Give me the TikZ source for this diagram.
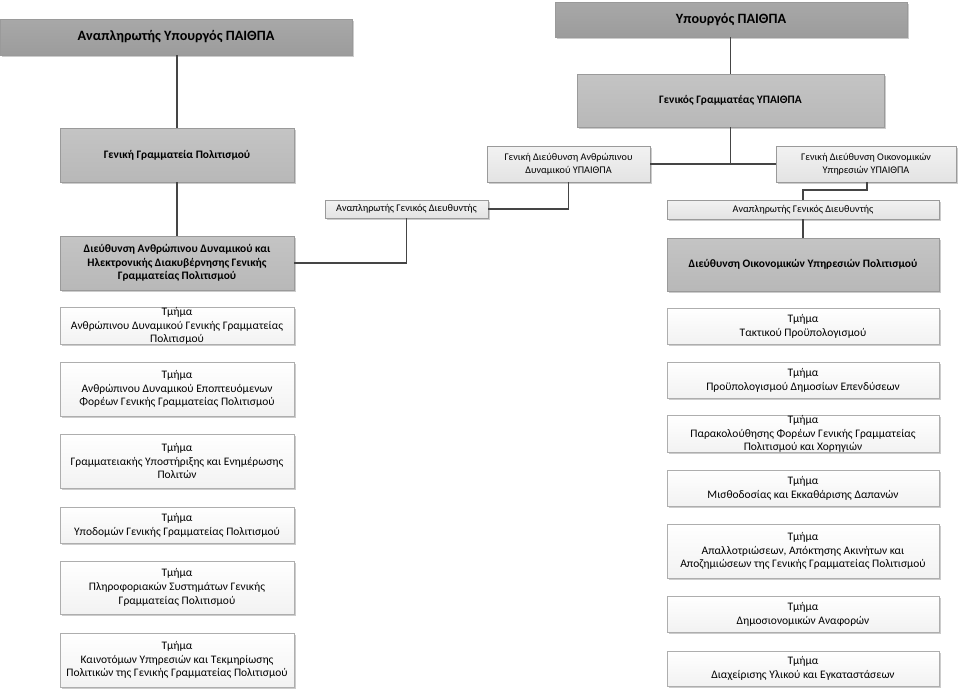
\documentclass[tikz,border=0pt]{standalone}
\usepackage{fontspec}
\setmainfont{Carlito}
\usetikzlibrary{shadows}
\definecolor{dkbox}{HTML}{A8A8A8}
\definecolor{dkboxb}{HTML}{9C9C9C}
\definecolor{mdbox}{HTML}{C4C4C4}
\definecolor{mdboxb}{HTML}{B8B8B8}
\definecolor{ltbox}{HTML}{F2F2F2}
\definecolor{ltboxb}{HTML}{E3E3E3}
\definecolor{edge}{HTML}{9A9A9A}
\definecolor{lineclr}{HTML}{454545}
\tikzset{
  base/.style={draw=edge, line width=0.6pt, inner sep=0pt, outer sep=0pt, align=center,
    drop shadow={shadow xshift=1.6pt, shadow yshift=-1.6pt, fill=black, opacity=0.2}},
  topbox/.style={base, top color=dkbox, bottom color=dkboxb, font=\fontsize{14.2}{17}\selectfont\bfseries},
  secbox/.style={base, top color=mdbox, bottom color=mdboxb, font=\fontsize{11.4}{13.4}\selectfont\bfseries},
  gdbox/.style={base, top color=ltbox, bottom color=ltboxb, font=\fontsize{10.2}{13}\selectfont},
  tmbox/.style={base, draw=edge!80, top color=white, bottom color=ltbox, font=\fontsize{11.5}{13.8}\selectfont},
  conn/.style={draw=lineclr, line width=1.1pt}
}
\begin{document}
\begin{tikzpicture}[x=1pt,y=-1pt]
\useasboundingbox (0,0) rectangle (960,691);
% top level
\node[topbox, minimum width=352, minimum height=36] (minA) at (176,37) {Αναπληρωτής Υπουργός ΠΑΙΘΠΑ};
\node[topbox, minimum width=352, minimum height=35] (min) at (731,19.5) {Υπουργός ΠΑΙΘΠΑ};
\node[secbox, minimum width=307, minimum height=53] (gs) at (730.5,100.5) {Γενικός Γραμματέας ΥΠΑΙΘΠΑ};
\node[secbox, minimum width=234, minimum height=54] (ggp) at (177,155) {Γενική Γραμματεία Πολιτισμού};
\node[gdbox, minimum width=163, minimum height=36] (gdad) at (568.5,164) {Γενική Διεύθυνση Ανθρώπινου\\Δυναμικού ΥΠΑΙΘΠΑ};
\node[gdbox, minimum width=180, minimum height=36] (gdoy) at (866,164) {Γενική Διεύθυνση Οικονομικών\\Υπηρεσιών ΥΠΑΙΘΠΑ};
\node[gdbox, minimum width=163, minimum height=18] (agdL) at (406.5,209) {Αναπληρωτής Γενικός Διευθυντής};
\node[gdbox, minimum width=272, minimum height=19] (agdR) at (803,209.5) {Αναπληρωτής Γενικός Διευθυντής};
\node[secbox, minimum width=234, minimum height=54] (dad) at (177,263) {Διεύθυνση Ανθρώπινου Δυναμικού και\\Ηλεκτρονικής Διακυβέρνησης Γενικής\\Γραμματείας Πολιτισμού};
\node[secbox, minimum width=272, minimum height=53] (doy) at (803,264.5) {Διεύθυνση Οικονομικών Υπηρεσιών Πολιτισμού};
% left departments
\node[tmbox, minimum width=234, minimum height=36] (L1) at (177,326) {Τμήμα\\Ανθρώπινου Δυναμικού Γενικής Γραμματείας\\Πολιτισμού};
\node[tmbox, minimum width=234, minimum height=54] (L2) at (177,389) {Τμήμα\\Ανθρώπινου Δυναμικού Εποπτευόμενων\\Φορέων Γενικής Γραμματείας Πολιτισμού};
\node[tmbox, minimum width=234, minimum height=54] (L3) at (177,461) {Τμήμα\\Γραμματειακής Υποστήριξης και Ενημέρωσης\\Πολιτών};
\node[tmbox, minimum width=234, minimum height=36] (L4) at (177,525) {Τμήμα\\Υποδομών Γενικής Γραμματείας Πολιτισμού};
\node[tmbox, minimum width=234, minimum height=53] (L5) at (177,587.5) {Τμήμα\\Πληροφοριακών Συστημάτων Γενικής\\Γραμματείας Πολιτισμού};
\node[tmbox, minimum width=234, minimum height=54] (L6) at (177,660) {Τμήμα\\Καινοτόμων Υπηρεσιών και Τεκμηρίωσης\\Πολιτικών της Γενικής Γραμματείας Πολιτισμού};
% right departments
\node[tmbox, minimum width=272, minimum height=36] (R1) at (803,326) {Τμήμα\\Τακτικού Προϋπολογισμού};
\node[tmbox, minimum width=272, minimum height=36] (R2) at (803,380) {Τμήμα\\Προϋπολογισμού Δημοσίων Επενδύσεων};
\node[tmbox, minimum width=272, minimum height=36] (R3) at (803,434) {Τμήμα\\Παρακολούθησης Φορέων Γενικής Γραμματείας\\Πολιτισμού και Χορηγιών};
\node[tmbox, minimum width=272, minimum height=36] (R4) at (803,488) {Τμήμα\\Μισθοδοσίας και Εκκαθάρισης Δαπανών};
\node[tmbox, minimum width=272, minimum height=54] (R5) at (803,551) {Τμήμα\\Απαλλοτριώσεων, Απόκτησης Ακινήτων και\\Αποζημιώσεων της Γενικής Γραμματείας Πολιτισμού};
\node[tmbox, minimum width=272, minimum height=36] (R6) at (803,614) {Τμήμα\\Δημοσιονομικών Αναφορών};
\node[tmbox, minimum width=272, minimum height=35] (R7) at (803,668.5) {Τμήμα\\Διαχείρισης Υλικού και Εγκαταστάσεων};
% connectors
\coordinate (kR) at (867,190);
\draw[conn] (ggp.north |- minA.south) -- (ggp.north);
\draw[conn] (ggp.south) -- (dad.north);
\draw[conn] (min.south -| gs.north) -- (gs.north);
\draw[conn] (gs.south) -- (gs.south |- gdad.east);
\draw[conn] (gdad.east) -- (gdoy.west);
\draw[conn] (gdad.south) |- (agdL.east);
\draw[conn] (agdL.south) |- (dad.east);
\draw[conn] (kR |- gdoy.south) -- (kR) -| (agdR.north);
\draw[conn] (agdR.south) -- (doy.north);
\end{tikzpicture}
\end{document}
